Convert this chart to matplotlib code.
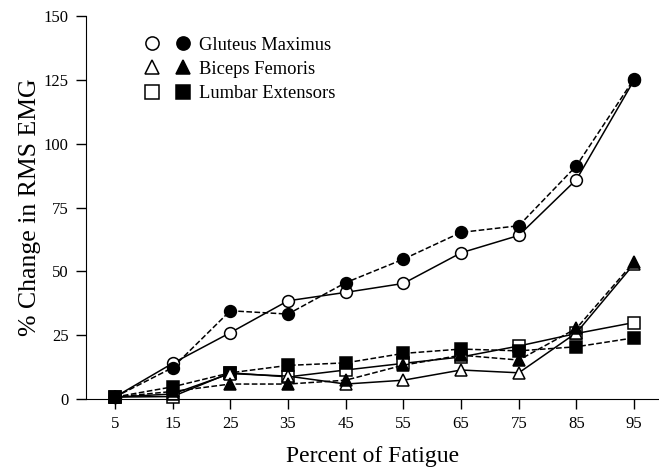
import matplotlib
matplotlib.use('Agg')
from matplotlib import pyplot as plt
from matplotlib.lines import Line2D
from matplotlib.legend_handler import HandlerTuple

plt.rcParams['font.family'] = ['Liberation Serif', 'DejaVu Serif']

fatigue = [5, 15, 25, 35, 45, 55, 65, 75, 85, 95]
xticks = fatigue
yticks = [0, 25, 50, 75, 100, 125, 150]

# open symbols = solid line, filled symbols = dashed line
glut_open = [0.8, 14.0, 26.0, 38.5, 41.8, 45.3, 57.3, 64.1, 86.0, 125.0]
glut_fill = [0.8, 12.3, 34.6, 33.3, 45.6, 54.8, 65.3, 67.9, 91.4, 125.5]
bic_open = [0.8, 2.0, 10.0, 9.0, 5.9, 7.4, 11.4, 10.3, 26.0, 53.0]
bic_fill = [0.8, 3.0, 5.9, 5.9, 7.4, 13.3, 17.2, 15.3, 27.7, 53.8]
lum_open = [0.8, 1.0, 10.3, 8.7, 11.4, 14.0, 16.5, 20.8, 25.7, 30.0]
lum_fill = [0.8, 4.8, 10.3, 13.2, 14.2, 17.9, 19.6, 18.9, 20.5, 24.0]

fig = plt.figure(figsize=(6.59, 4.74), dpi=100)
ax = fig.add_axes([0.1305, 0.158, 0.8695, 0.808])

ms = 8.5
series = [
    (lum_open, 's', 'white', '-'),
    (lum_fill, 's', 'black', '--'),
    (bic_open, '^', 'white', '-'),
    (bic_fill, '^', 'black', '--'),
    (glut_open, 'o', 'white', '-'),
    (glut_fill, 'o', 'black', '--'),
]
for vals, mk, fc, ls in series:
    ax.plot(fatigue, vals, color='black', linestyle=ls, lw=1.1,
            marker=mk, markersize=ms, markerfacecolor=fc,
            markeredgecolor='black', markeredgewidth=1.1, clip_on=False)

ax.set_xlim(0, 99.3)
ax.set_ylim(0, 150)
ax.set_xticks(xticks)
ax.set_yticks(yticks)
ax.spines['top'].set_visible(False)
ax.spines['right'].set_visible(False)
ax.tick_params(direction='out', length=7.5, width=1, labelsize=12, pad=5)
ax.set_xlabel('Percent of Fatigue', fontsize=17, labelpad=10)
ax.set_ylabel('% Change in RMS EMG', fontsize=18.5, labelpad=2)

def mh(mk, fc):
    return Line2D([], [], linestyle='none', marker=mk, markersize=9.5,
                  markerfacecolor=fc, markeredgecolor='black', markeredgewidth=1.1)

handles = [(mh('o', 'white'), mh('o', 'black')),
           (mh('^', 'white'), mh('^', 'black')),
           (mh('s', 'white'), mh('s', 'black'))]
labels = ['Gluteus Maximus', 'Biceps Femoris', 'Lumbar Extensors']
ax.legend(handles, labels, handler_map={tuple: HandlerTuple(ndivide=None, pad=1.0)},
          loc='upper left', bbox_to_anchor=(0.075, 0.99), frameon=False,
          fontsize=13.3, handlelength=2.4, handletextpad=0.5, labelspacing=0.4)

fig.savefig('out.png', dpi=100)
